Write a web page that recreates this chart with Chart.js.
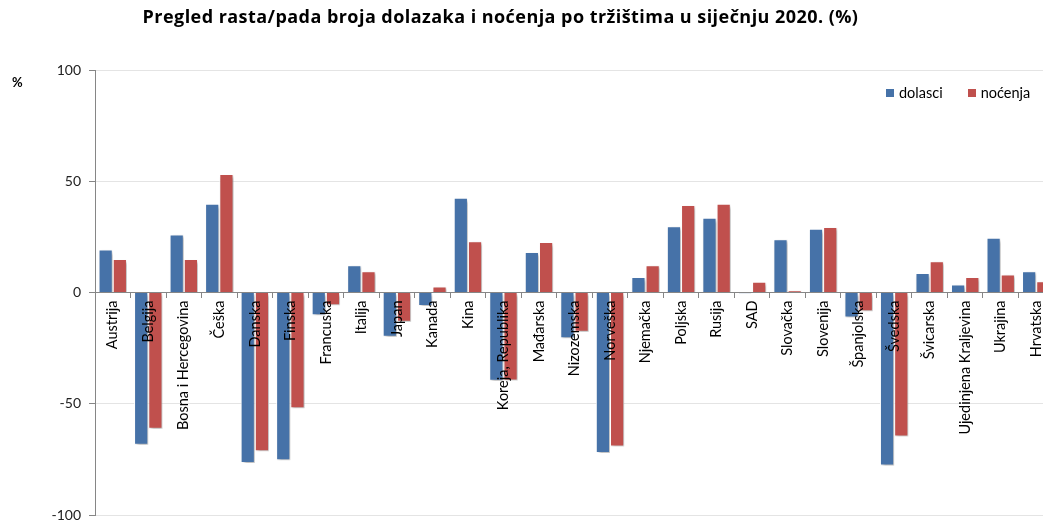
<!DOCTYPE html>
<html><head><meta charset="utf-8">
<script src="https://cdn.jsdelivr.net/npm/chart.js@4.4.1/dist/chart.umd.min.js"></script>
<style>
html,body{margin:0;padding:0;background:#fff;overflow:hidden;width:1043px;height:521px}
#wrap{position:relative;width:1054px;height:521px}
#title{position:absolute;left:0;top:4px;width:1001px;text-align:center;font:bold 18px "Open Sans";letter-spacing:0.45px;color:#000;white-space:nowrap}
#unit{position:absolute;left:12px;top:74px;font:bold 13px Lato;color:#000}
#legend{position:absolute;left:886px;top:84px;display:flex;align-items:center;font:14.5px Lato;color:#000;white-space:nowrap}
#legend .sw{display:inline-block;width:8px;height:8px;margin-right:5px}
#legend .it{display:flex;align-items:center}
canvas{position:absolute;left:0;top:0}
</style></head><body>
<div id="wrap"><canvas id="c" width="1054" height="521"></canvas>
<div id="title">Pregled rasta/pada broja dolazaka i noćenja po tržištima u siječnju 2020. (%)</div>
<div id="unit">%</div>
<div id="legend"></div></div>
<script>
const categories = ['Austrija','Belgija','Bosna i Hercegovina','Češka','Danska','Finska','Francuska','Italija','Japan','Kanada','Kina','Koreja, Republika','Mađarska','Nizozemska','Norveška','Njemačka','Poljska','Rusija','SAD','Slovačka','Slovenija','Španjolska','Švedska','Švicarska','Ujedinjena Kraljevina','Ukrajina','Hrvatska'];
const dolasci = [19.3,-68.4,26.1,39.9,-76.6,-75.4,-10.2,12.2,-19.9,-6.1,42.6,-39.7,18.2,-20.6,-72.1,7.0,29.8,33.6,-0.5,23.9,28.7,-11.2,-77.8,8.8,3.6,24.6,9.5];
const nocenja = [15.1,-61.2,15.1,53.3,-71.4,-52.0,-5.7,9.5,-13.2,2.7,23.0,-39.5,22.7,-17.6,-69.2,12.2,39.3,39.9,4.8,1.0,29.4,-8.4,-64.7,14.0,7.0,8.1,5.1];
const seriesNames = ['dolasci','noćenja'];
const seriesColors = ['#4672A8','#C0504D'];
const yMin = -100, yMax = 100, yStep = 50;

const shadowPlugin = {
  id: 'barShadow',
  beforeDatasetsDraw(chart) {
    const ctx = chart.ctx; ctx.save();
    ctx.shadowColor = 'rgba(0,0,0,0.3)'; ctx.shadowBlur = 3; ctx.shadowOffsetX = 2; ctx.shadowOffsetY = 2;
  },
  afterDatasetsDraw(chart) { chart.ctx.restore(); }
};

const FONT = 'Lato';
const chart = new Chart(document.getElementById('c'), {
  type: 'bar',
  data: {
    labels: categories,
    datasets: [
      {label: seriesNames[0], data: dolasci, backgroundColor: seriesColors[0], borderColor: '#ffffff', borderWidth: 1},
      {label: seriesNames[1], data: nocenja, backgroundColor: seriesColors[1], borderColor: '#ffffff', borderWidth: 1}
    ]
  },
  options: {
    responsive: false,
    animation: false,
    layout: {padding: {top: 70, bottom: 6, left: 0, right: 0}},
    datasets: {bar: {categoryPercentage: 0.8, barPercentage: 1.0}},
    plugins: {
      title: {display: false},
      tooltip: {enabled: false},
      legend: {display: false}
    },
    scales: {
      x: {
        position: {y: 0},
        grid: {display: true, drawOnChartArea: false, drawTicks: true, tickLength: 5, tickColor: '#868686', offset: true, z: 1},
        border: {display: true, color: '#868686', width: 1, z: 1},
        ticks: {autoSkip: false, minRotation: 90, maxRotation: 90, padding: 3, color: '#000', font: {family: FONT, size: 14.5}, z: 1},
        afterFit(s) { s.height = 0; s.paddingLeft = 0; s.paddingRight = 0; }
      },
      y: {
        min: yMin, max: yMax,
        grid: {color: '#e4e4e4', tickColor: '#868686', tickLength: 6, drawTicks: true},
        border: {display: true, color: '#868686', width: 1},
        ticks: {stepSize: yStep, padding: 8, color: '#222', font: {family: FONT, size: 14}},
        afterFit(s) { s.width = 95; s.paddingTop = 0; s.paddingBottom = 0; }
      }
    }
  },
  plugins: [shadowPlugin]
});

// HTML legend built from the chart's datasets
const leg = document.getElementById('legend');
chart.data.datasets.forEach((ds, i) => {
  const it = document.createElement('span'); it.className = 'it';
  if (i > 0) it.style.marginLeft = '25px';
  const sw = document.createElement('span'); sw.className = 'sw'; sw.style.background = ds.backgroundColor;
  it.appendChild(sw); it.appendChild(document.createTextNode(ds.label));
  leg.appendChild(it);
});
</script>
</body></html>
